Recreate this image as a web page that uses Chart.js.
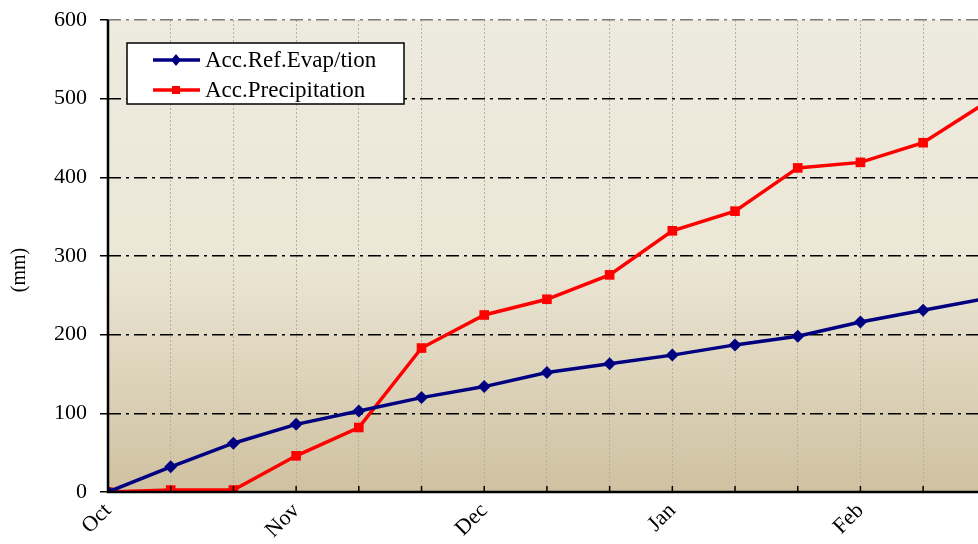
<!DOCTYPE html>
<html>
<head>
<meta charset="utf-8">
<script src="https://cdn.jsdelivr.net/npm/chart.js@4.4.1/dist/chart.umd.min.js"></script>
<style>
  html, body { margin: 0; padding: 0; background: #fff; }
  #wrap { width: 978px; height: 544px; }
</style>
</head>
<body>
<div id="wrap"><canvas id="accChart" width="978" height="544"></canvas></div>
<script>
// accumulated values per 10-day step, starting 1 Oct
const monthLabels = ['Oct', 'Nov', 'Dec', 'Jan', 'Feb'];
const evapValues = [0, 32, 62, 86, 103, 120, 134, 152, 163, 174, 187, 198, 216, 231, 246];
const precipValues = [0, 2.5, 2.5, 46, 82, 183, 225, 245, 276, 332, 357, 412, 419, 444, 495];
const yTicks = [0, 100, 200, 300, 400, 500, 600];

const serif = "'Liberation Serif', 'DejaVu Serif', serif";

function toPoints(arr) {
	return arr.map((v, i) => ({ x: i, y: v }));
}

// plot background (light top, tan towards the bottom)
const bgPlugin = {
	id: 'bgFill',
	beforeDraw(chart) {
		const { ctx, chartArea: a } = chart;
		const g = ctx.createLinearGradient(0, a.top, 0, a.bottom);
		g.addColorStop(0, '#edeadf');
		g.addColorStop(0.5, '#ece7d6');
		g.addColorStop(1, '#cfc1a0');
		ctx.save();
		ctx.fillStyle = g;
		ctx.fillRect(a.left, a.top, a.right - a.left, a.bottom - a.top);
		ctx.restore();
	}
};

// axis lines, inward x ticks, y title and the boxed legend
const decoPlugin = {
	id: 'deco',
	afterDatasetsDraw(chart) {
		const { ctx, chartArea: a, scales } = chart;
		ctx.save();
		ctx.strokeStyle = '#000';
		ctx.lineWidth = 1.5;
		scales.x.ticks.forEach(t => {
			const px = scales.x.getPixelForValue(t.value);
			if (t.value === 0) return;
			ctx.beginPath();
			ctx.moveTo(px, a.bottom - 6);
			ctx.lineTo(px, a.bottom);
			ctx.stroke();
		});
		ctx.lineWidth = 2.5;
		ctx.beginPath();
		ctx.moveTo(a.left, a.top);
		ctx.lineTo(a.left, a.bottom);
		ctx.lineTo(a.right, a.bottom);
		ctx.stroke();

		// y title
		ctx.save();
		ctx.translate(20, 270);
		ctx.rotate(-Math.PI / 2);
		ctx.fillStyle = '#000';
		ctx.font = '20px ' + serif;
		ctx.textAlign = 'center';
		ctx.textBaseline = 'middle';
		ctx.fillText('(mm)', 0, 0);
		ctx.restore();

		// legend
		const lx = 127, ly = 43, lw = 277, lh = 61;
		ctx.fillStyle = '#fff';
		ctx.fillRect(lx, ly, lw, lh);
		ctx.lineWidth = 1.5;
		ctx.strokeStyle = '#000';
		ctx.strokeRect(lx, ly, lw, lh);
		chart.data.datasets.forEach((ds, i) => {
			const y = ly + 17 + i * 30;
			ctx.strokeStyle = ds.borderColor;
			ctx.lineWidth = 3.5;
			ctx.beginPath();
			ctx.moveTo(153, y);
			ctx.lineTo(200, y);
			ctx.stroke();
			ctx.fillStyle = ds.borderColor;
			if (ds.pointStyle === 'rectRot') {
				ctx.beginPath();
				ctx.moveTo(176, y - 6);
				ctx.lineTo(181, y);
				ctx.lineTo(176, y + 6);
				ctx.lineTo(171, y);
				ctx.closePath();
				ctx.fill();
			} else {
				ctx.fillRect(172, y - 4, 8, 8);
			}
			ctx.fillStyle = '#000';
			ctx.font = '23px ' + serif;
			ctx.textBaseline = 'middle';
			ctx.textAlign = 'left';
			ctx.fillText(ds.label, 205, y + 1);
		});
		ctx.restore();
	}
};

new Chart(document.getElementById('accChart'), {
	type: 'line',
	data: {
		datasets: [{
			label: 'Acc.Ref.Evap/tion',
			data: toPoints(evapValues),
			borderColor: '#000080',
			backgroundColor: '#000080',
			borderWidth: 3.5,
			pointStyle: 'rectRot',
			pointRadius: 6.5,
			pointBorderWidth: 0,
			tension: 0
		}, {
			label: 'Acc.Precipitation',
			data: toPoints(precipValues),
			borderColor: '#ff0000',
			backgroundColor: '#ff0000',
			borderWidth: 3.5,
			pointStyle: 'rect',
			pointRadius: 6.8,
			pointBorderWidth: 0,
			tension: 0
		}]
	},
	options: {
		responsive: false,
		animation: false,
		layout: { autoPadding: false, padding: { top: 20, right: 0, left: 0, bottom: 0 } },
		plugins: {
			legend: { display: false },
			tooltip: { enabled: false }
		},
		scales: {
			x: {
				type: 'linear',
				min: 0,
				max: 13.875,
				afterFit(scale) {
					scale.height = 52;
					scale.paddingLeft = 0;
					scale.paddingRight = 0;
				},
				border: { display: false, dash: [2, 2] },
				grid: {
					color: '#b3afa2',
					lineWidth: 1,
					drawTicks: false
				},
				ticks: {
					stepSize: 1,
					includeBounds: false,
					autoSkip: false,
					minRotation: 45,
					maxRotation: 45,
					padding: 6,
					color: '#000',
					font: { family: serif, size: 22 },
					callback: v => (v % 3 === 0 ? monthLabels[v / 3] : '')
				}
			},
			y: {
				min: 0,
				max: 600,
				afterFit(scale) {
					scale.width = 108;
					scale.paddingTop = 0;
					scale.paddingBottom = 0;
				},
				border: { display: false, dash: [13, 5, 3, 5] },
				grid: {
					color: c => (c.tick && c.tick.value === 600 ? '#7a7a7a' : (c.tick && c.tick.value === 0 ? 'rgba(0,0,0,0)' : '#000')),
					lineWidth: 1.5,
					tickLength: 8,
					tickColor: '#000',
					tickBorderDash: [],
					tickWidth: 1.5
				},
				afterBuildTicks(scale) { scale.ticks = yTicks.map(v => ({ value: v })); },
				ticks: {
					padding: 13,
					color: '#000',
					font: { family: serif, size: 22 }
				}
			}
		}
	},
	plugins: [bgPlugin, decoPlugin]
});
</script>
</body>
</html>
